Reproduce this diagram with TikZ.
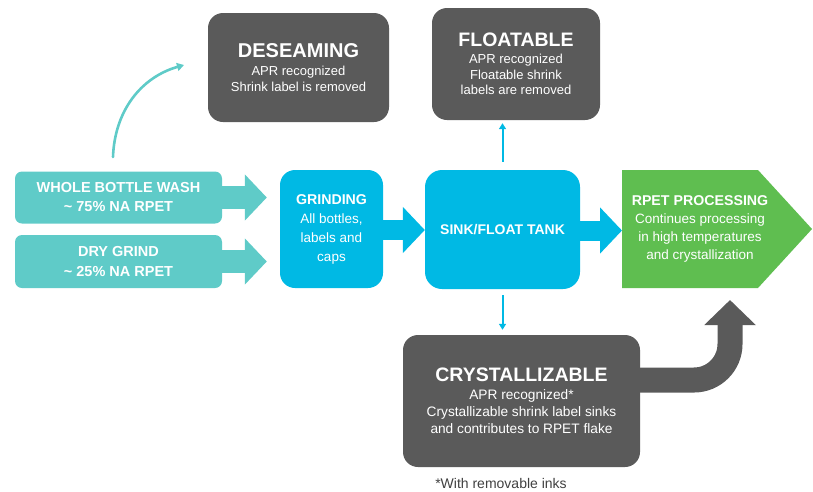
\documentclass[tikz,border=0pt]{standalone}
\usepackage{fontspec}
\setmainfont{Liberation Sans}
\usetikzlibrary{arrows.meta,calc}
\definecolor{tealc}{HTML}{5FCBC8}
\definecolor{cyanc}{HTML}{00B9E4}
\definecolor{greenc}{HTML}{5FBE50}
\definecolor{grayc}{HTML}{5A5A5A}
\definecolor{footc}{HTML}{404040}
\begin{document}
\begin{tikzpicture}[x=1pt,y=-1pt,
  basebox/.style={inner sep=0pt, align=center, text=white},
  tealbox/.style={basebox, fill=tealc, rounded corners=7pt, minimum width=207pt, minimum height=52pt,
     font=\bfseries\fontsize{14.5}{19}\selectfont},
  cyanbox/.style={basebox, fill=cyanc, rounded corners=15pt, font=\fontsize{13.5}{19}\selectfont},
  darkbox/.style={basebox, fill=grayc, rounded corners=15pt, font=\fontsize{13}{15.5}\selectfont},
  blockteal/.style={draw=tealc, line width=23pt, -{Triangle[width=45pt,length=22pt]}},
  blockcyan/.style={draw=cyanc, line width=20pt, -{Triangle[width=45pt,length=22pt]}},
  thincyan/.style={draw=cyanc, line width=2pt, -{Triangle[width=7pt,length=6pt]}},
  thinteal/.style={draw=tealc, line width=2.6pt, line cap=round, -{Triangle[width=8pt,length=7pt]}},
  graybig/.style={draw=grayc, line width=25pt, rounded corners=36pt, -{Triangle[width=50pt,length=25pt]}}
]
\useasboundingbox (0,0) rectangle (813,491);

% left teal boxes
\node[tealbox] (wash) at (118.5,197.5) {WHOLE BOTTLE WASH\\\textasciitilde\ 75\% NA RPET};
\node[tealbox, minimum height=53pt] (dry) at (118.5,261.5) {DRY GRIND\\\textasciitilde\ 25\% NA RPET};

% cyan boxes
\node[cyanbox, minimum width=103pt, minimum height=118pt] (grind) at (331.5,229)
  {{\bfseries\fontsize{14.2}{19}\selectfont GRINDING}\\All bottles,\\labels and\\caps};
\node[cyanbox, minimum width=155pt, minimum height=119pt, rounded corners=17pt] (sink) at (502.5,229.5)
  {\bfseries\fontsize{14}{18}\selectfont SINK/FLOAT TANK};

% RPET pentagon
\fill[greenc] (622,170) -- (758,170) -- (812,229) -- (758,288) -- (622,288) -- cycle;
\coordinate (rpetw) at (622,229);
\node[basebox, font=\fontsize{13.5}{18}\selectfont] (rpet) at (700,229)
  {{\bfseries\fontsize{14.2}{18}\selectfont RPET PROCESSING}\\Continues processing\\in high temperatures\\and crystallization};

% dark boxes
\node[darkbox, minimum width=181pt, minimum height=109pt] (deseam) at (298.5,67.5)
  {{\bfseries\fontsize{20}{20}\selectfont DESEAMING}\\[3pt]APR recognized\\Shrink label is removed};
\node[darkbox, minimum width=168pt, minimum height=112pt] (float) at (516,64)
  {{\bfseries\fontsize{19.5}{20}\selectfont FLOATABLE}\\[1pt]APR recognized\\Floatable shrink\\labels are removed};
\node[darkbox, minimum width=237pt, minimum height=132pt, font=\fontsize{13.7}{17}\selectfont] (crys) at (521.5,401)
  {{\bfseries\fontsize{19.5}{20}\selectfont CRYSTALLIZABLE}\\[1pt]APR recognized*\\Crystallizable shrink label sinks\\and contributes to RPET flake};

\node[inner sep=0pt, text=footc, font=\fontsize{14}{16}\selectfont] (foot) at (501,483) {*With removable inks};

% block arrows
\draw[blockteal, shorten >=13pt] (wash.east) -- (wash.east -| grind.west);
\draw[blockteal, shorten >=13pt] (dry.east) -- (dry.east -| grind.west);
\draw[blockcyan] ([yshift=-1pt]grind.east) -- ([yshift=-1pt]grind.east -| sink.west);
\draw[blockcyan] ([yshift=-1pt]sink.east) -- ([yshift=-1pt]sink.east -| rpetw);

% thin arrows
\draw[thincyan, shorten <=8pt, shorten >=3pt] (sink.north) -- (sink.north |- float.south);
\draw[thincyan, shorten <=6pt, shorten >=5pt] (sink.south) -- (sink.south |- crys.north);

\coordinate (c1) at (113,157);
\coordinate (c2) at (184,65);
\draw[thinteal] (c1) to[out=88,in=196] (c2);

% gray curved arrow
\coordinate (gtip) at (730,300);
\draw[graybig] ([yshift=21pt]crys.east) -- ([yshift=21pt]crys.east -| gtip) -- (gtip);
\end{tikzpicture}
\end{document}
